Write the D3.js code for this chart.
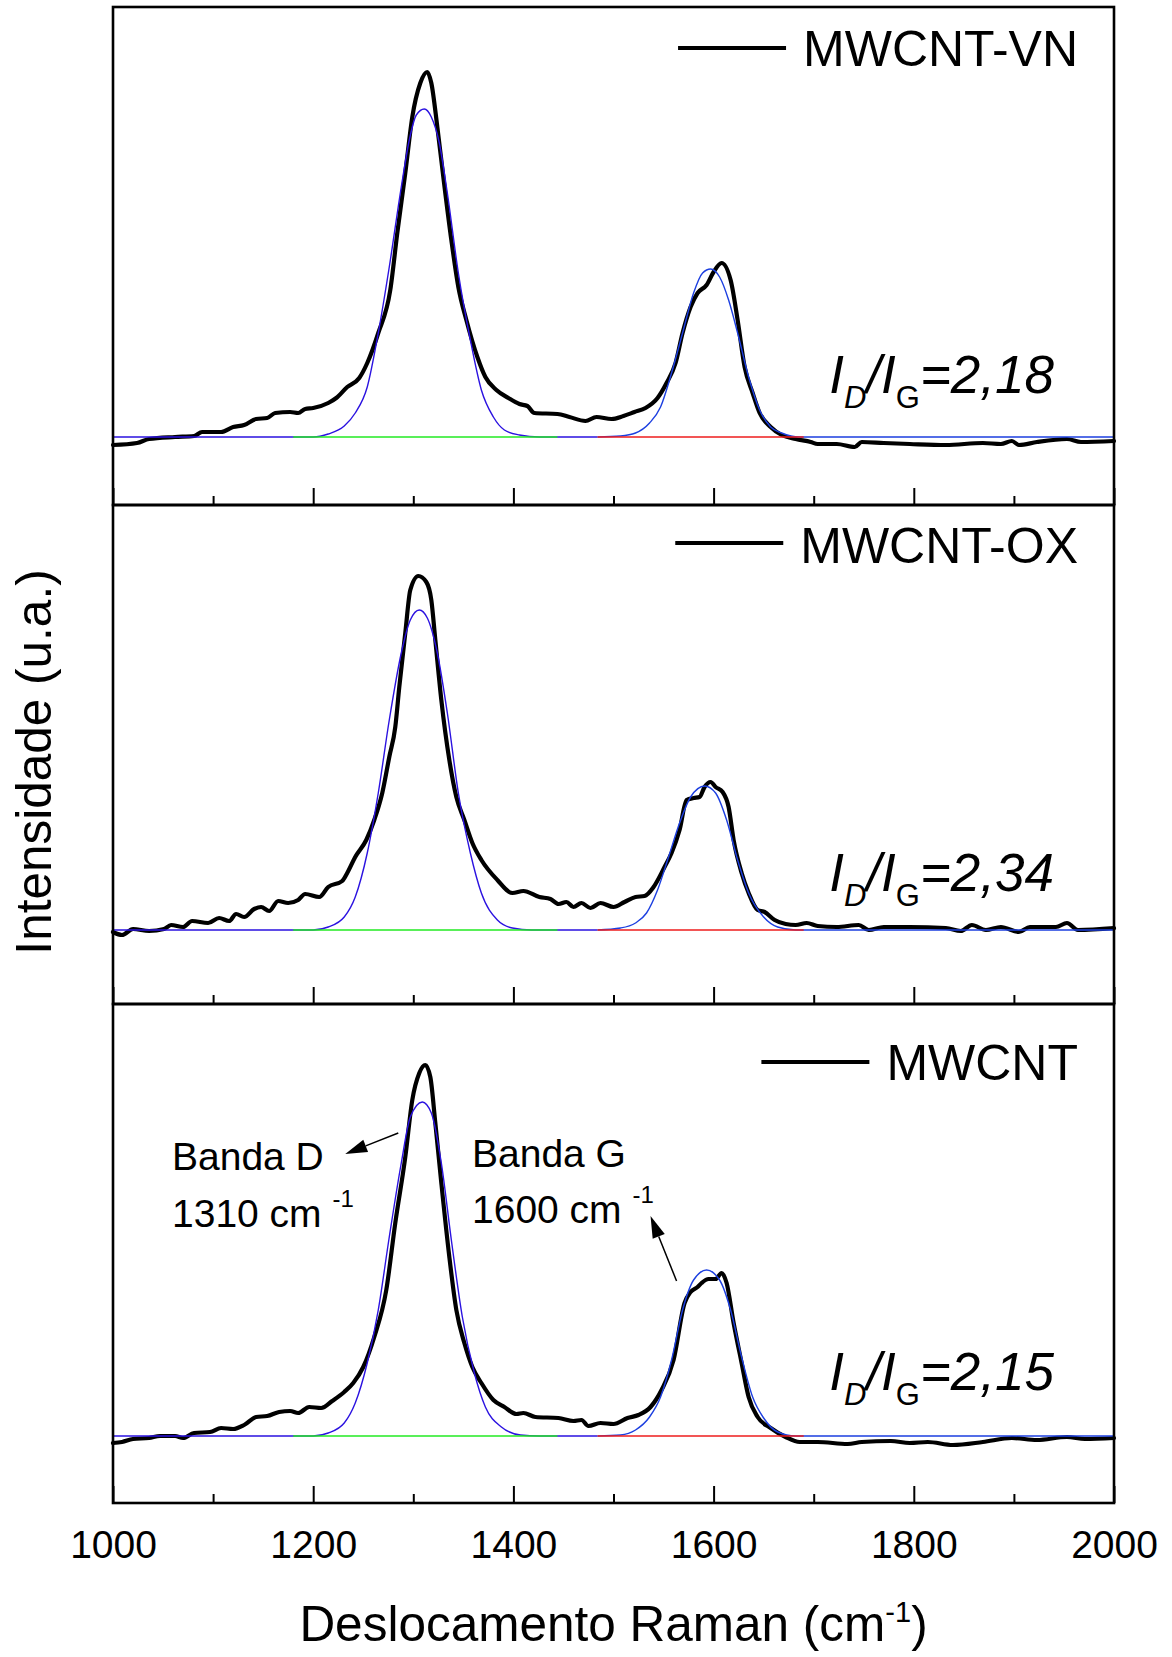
<!DOCTYPE html>
<html>
<head>
<meta charset="utf-8">
<script src="https://cdn.jsdelivr.net/npm/d3@7"></script>
<style>
  body { margin: 0; background: #fff; }
  svg { display: block; }
  text { font-family: "Liberation Sans", Arial, Helvetica, sans-serif; fill: #000; }
</style>
</head>
<body>
<svg id="chart" width="1172" height="1657"></svg>
<script>
// ---------- data ----------
const samples = ["MWCNT-VN", "MWCNT-OX", "MWCNT"];
const ratioValues = ["2,18", "2,34", "2,15"];
const xMajorTicks = [1000, 1200, 1400, 1600, 1800, 2000];
const xMinorTicks = [1100, 1300, 1500, 1700, 1900];
const xTickLabels = ["1000", "1200", "1400", "1600", "1800", "2000"];

// measured Raman spectra: [shift (cm-1), intensity (a.u.)]
const spectrumVN = [
  [1000,-8],[1024,-6],[1036,-2],[1062,0],[1081,1],[1089,5],[1108,5],[1120,10],[1131,12],[1143,18],
  [1154,19],[1162,24],[1177,25],[1185,24],[1192,28],[1200,29],[1215,34],[1223,39],[1234,50],[1246,59],
  [1254,74],[1265,104],[1277,147],[1284,204],[1292,264],[1299,320],[1307,354],[1314,365],[1318,354],
  [1324,310],[1330,260],[1338,197],[1345,150],[1353,117],[1364,80],[1372,60],[1383,47],[1395,39],
  [1406,33],[1414,31],[1421,24],[1444,23],[1456,20],[1472,16],[1483,20],[1498,18],[1510,21],[1521,25],
  [1532,29],[1544,39],[1553,54],[1562,74],[1569,104],[1577,130],[1584,144],[1593,152],[1600,165],
  [1608,174],[1617,157],[1624,117],[1631,70],[1639,44],[1646,24],[1657,10],[1668,2],[1682,-2],
  [1697,-5],[1704,-7],[1723,-7],[1741,-10],[1748,-5],[1770,-6],[1796,-7],[1832,-8],[1869,-6],
  [1887,-7],[1898,-4],[1905,-8],[1923,-5],[1953,-2],[1967,-5],[2000,-4]
];
const spectrumOX = [
  [1000,-2],[1009,-5],[1020,1],[1036,-1],[1051,1],[1058,5],[1070,3],[1079,9],[1095,7],[1106,12],
  [1116,9],[1123,16],[1131,13],[1141,21],[1148,23],[1156,19],[1165,29],[1175,27],[1185,30],[1192,36],
  [1206,33],[1215,43],[1229,49],[1234,57],[1242,73],[1253,90],[1261,110],[1269,137],[1276,173],
  [1282,203],[1286,243],[1292,297],[1297,340],[1305,354],[1313,348],[1318,330],[1322,290],[1328,230],
  [1336,170],[1343,133],[1351,110],[1359,87],[1368,70],[1384,50],[1399,37],[1410,39],[1426,33],
  [1437,31],[1445,26],[1453,28],[1460,23],[1468,27],[1477,22],[1487,27],[1500,23],[1511,28],[1522,33],
  [1531,34],[1540,43],[1551,63],[1558,77],[1566,100],[1573,130],[1580,132],[1586,133],[1591,143],
  [1597,148],[1602,143],[1609,138],[1615,123],[1620,90],[1628,57],[1635,37],[1644,20],[1651,18],
  [1661,10],[1672,6],[1682,5],[1693,7],[1704,4],[1723,3],[1745,5],[1755,0],[1770,3],[1796,3],
  [1832,2],[1847,-1],[1858,5],[1872,0],[1887,3],[1905,-2],[1916,3],[1942,3],[1953,7],[1964,0],[2000,2]
];
const spectrumPristine = [
  [1000,-7],[1009,-6],[1020,-3],[1036,-2],[1047,0],[1062,0],[1070,-2],[1081,3],[1097,4],[1108,8],
  [1120,7],[1131,11],[1143,19],[1154,20],[1166,24],[1177,25],[1185,23],[1196,29],[1208,28],[1219,35],
  [1231,44],[1240,53],[1250,69],[1261,99],[1273,146],[1282,213],[1292,279],[1299,336],[1306,363],
  [1312,371],[1317,359],[1322,313],[1328,253],[1336,179],[1343,126],[1351,93],[1359,69],[1368,53],
  [1380,36],[1391,29],[1403,22],[1410,23],[1422,19],[1445,18],[1460,15],[1468,16],[1475,10],[1487,13],
  [1500,12],[1514,18],[1525,21],[1537,29],[1548,46],[1560,76],[1571,133],[1577,144],[1584,149],
  [1588,153],[1595,157],[1602,157],[1608,163],[1613,153],[1620,113],[1628,73],[1635,39],[1644,19],
  [1657,8],[1672,-1],[1686,-6],[1704,-6],[1734,-8],[1748,-6],[1777,-5],[1796,-7],[1814,-6],[1839,-9],
  [1869,-6],[1898,-2],[1923,-4],[1953,-1],[1971,-3],[2000,-2]
];

// fitted D band profiles
const fitD_VN = [
  [1000,0],[1200,0],[1215,3],[1231,11],[1242,24],[1254,50],[1265,104],[1276,170],[1288,250],[1296,297],
  [1303,322],[1311,328],[1318,320],[1326,294],[1334,244],[1345,164],[1357,97],[1368,47],[1380,20],
  [1391,7],[1406,2],[1426,0],[1484,0]
];
const fitD_OX = [
  [1000,0],[1200,0],[1215,3],[1231,13],[1242,33],[1254,77],[1265,137],[1276,210],[1288,277],[1297,310],
  [1306,320],[1314,312],[1324,277],[1334,217],[1345,137],[1357,77],[1368,37],[1384,10],[1399,2],
  [1418,0],[1484,0]
];
const fitD_Pristine = [
  [1000,0],[1200,0],[1215,3],[1231,13],[1242,33],[1254,73],[1265,126],[1276,199],[1288,273],[1297,319],
  [1309,334],[1318,323],[1328,273],[1338,196],[1349,119],[1361,63],[1372,29],[1388,9],[1407,1],
  [1426,0],[1484,0]
];
// fitted G band profiles
const fitG_VN = [
  [1484,0],[1507,1],[1522,4],[1536,14],[1547,30],[1558,64],[1569,104],[1580,144],[1589,164],[1597,168],
  [1606,160],[1615,137],[1624,104],[1635,60],[1646,27],[1657,10],[1668,4],[1686,0],[2000,0]
];
const fitG_OX = [
  [1484,0],[1507,2],[1522,7],[1533,17],[1544,40],[1555,73],[1566,107],[1577,133],[1591,144],[1602,137],
  [1613,110],[1624,70],[1635,37],[1650,13],[1664,3],[1682,0],[2000,0]
];
const fitG_Pristine = [
  [1484,0],[1507,1],[1522,6],[1536,19],[1547,39],[1558,76],[1569,126],[1580,156],[1593,166],[1606,156],
  [1617,126],[1628,79],[1639,39],[1650,18],[1664,4],[1682,0],[2000,0]
];
// fit baselines: [start, end] in cm-1
const baselineRangeD = [1180, 1444];
const baselineRangeG = [1484, 1690];

// band annotations (bottom panel)
const bandNames = ["Banda D", "Banda G"];
const bandPositions = ["1310", "1600"];
// arrows: [tail shift, tail intensity, tip shift, tip intensity]
const bandArrows = [[1285, 303, 1232, 282], [1563, 155, 1537, 220]];

// ---------- layout ----------
const svg = d3.select("#chart");
const left = 113, right = 1114;
const panels = [
  { top: 7,    bottom: 505,  domain: [-68, 430], spec: spectrumVN,       fD: fitD_VN,       fG: fitG_VN },
  { top: 505,  bottom: 1004, domain: [-74, 425], spec: spectrumOX,       fD: fitD_OX,       fG: fitG_OX },
  { top: 1004, bottom: 1503, domain: [-67, 432], spec: spectrumPristine, fD: fitD_Pristine, fG: fitG_Pristine }
];
const legendOffset = [[41, 59], [38, 58], [58, 76]];

const x = d3.scaleLinear().domain([1000, 2000]).range([left, right]);

panels.forEach((p, i) => {
  const y = d3.scaleLinear().domain(p.domain).range([p.bottom, p.top]);
  const line = d3.line().x(d => x(d[0])).y(d => y(d[1])).curve(d3.curveMonotoneX);
  const g = svg.append("g");

  // measured spectrum
  g.append("path").datum(p.spec).attr("d", line)
    .attr("fill", "none").attr("stroke", "#000").attr("stroke-width", 4.2)
    .attr("stroke-linejoin", "round").attr("stroke-linecap", "round");

  // D fit, baseline segments, G fit
  g.append("path").datum(p.fD).attr("d", line)
    .attr("fill", "none").attr("stroke", "#2b12e0").attr("stroke-width", 1.4);
  g.append("line")
    .attr("x1", x(baselineRangeD[0])).attr("x2", x(baselineRangeD[1]))
    .attr("y1", y(0)).attr("y2", y(0))
    .attr("stroke", "#22ea22").attr("stroke-width", 1.6);
  g.append("path").datum(p.fG).attr("d", line)
    .attr("fill", "none").attr("stroke", "#1c3fe0").attr("stroke-width", 1.4);
  g.append("line")
    .attr("x1", x(baselineRangeG[0])).attr("x2", x(baselineRangeG[1]))
    .attr("y1", y(0)).attr("y2", y(0))
    .attr("stroke", "#ee1c1c").attr("stroke-width", 1.6);

  // inward ticks on the bottom edge of each panel
  const major = d3.axisBottom(x).tickValues(xMajorTicks).tickSize(-17).tickPadding(27)
    .tickFormat((d, k) => i === panels.length - 1 ? xTickLabels[k] : "");
  const minor = d3.axisBottom(x).tickValues(xMinorTicks).tickSize(-9).tickFormat("");
  const ga = g.append("g").attr("transform", `translate(0,${p.bottom})`).call(major);
  const gm = g.append("g").attr("transform", `translate(0,${p.bottom})`).call(minor);
  [ga, gm].forEach(a => {
    a.select(".domain").remove();
    a.selectAll(".tick line").attr("stroke", "#000").attr("stroke-width", 2);
  });
  ga.selectAll(".tick text")
    .style("font-family", '"Liberation Sans", Arial, sans-serif')
    .attr("font-size", 39).attr("fill", "#000");

  // frame
  g.append("rect").attr("x", left).attr("y", p.top)
    .attr("width", right - left).attr("height", p.bottom - p.top)
    .attr("fill", "none").attr("stroke", "#000").attr("stroke-width", 2.6);

  // legend
  const lt = g.append("text").attr("x", 1078).attr("y", p.top + legendOffset[i][1])
    .attr("text-anchor", "end").attr("font-size", 50).text(samples[i]);
  const tx = 1078 - lt.node().getComputedTextLength();
  g.append("line").attr("x1", tx - 125).attr("x2", tx - 17)
    .attr("y1", p.top + legendOffset[i][0]).attr("y2", p.top + legendOffset[i][0])
    .attr("stroke", "#000").attr("stroke-width", 4);

  // intensity ratio
  const r = g.append("text").attr("x", 1054).attr("y", p.top + 386)
    .attr("text-anchor", "end").attr("font-size", 53).attr("font-style", "italic");
  r.append("tspan").text("I");
  r.append("tspan").attr("dy", 15).attr("font-size", 31).text("D");
  r.append("tspan").attr("dy", -15).text("/I");
  r.append("tspan").attr("dy", 15).attr("font-size", 31).attr("font-style", "normal").text("G");
  r.append("tspan").attr("dy", -15).text("=" + ratioValues[i]);

  // band annotations on the bottom panel
  if (i === panels.length - 1) {
    const textX = [172, 472], nameY = [1170, 1167], posY = [1227, 1223];
    bandNames.forEach((nm, k) => {
      g.append("text").attr("x", textX[k]).attr("y", nameY[k]).attr("font-size", 39).text(nm);
      const t = g.append("text").attr("x", textX[k]).attr("y", posY[k]).attr("font-size", 39)
        .attr("xml:space", "preserve");
      t.append("tspan").text(bandPositions[k] + " cm ");
      t.append("tspan").attr("dy", -20).attr("font-size", 24).text("-1");
    });
    bandArrows.forEach(a => {
      const x1 = x(a[0]), y1 = y(a[1]), x2 = x(a[2]), y2 = y(a[3]);
      const ang = Math.atan2(y2 - y1, x2 - x1);
      const len = 22, hw = 6.5;
      const bx = x2 - len * Math.cos(ang), by = y2 - len * Math.sin(ang);
      g.append("line").attr("x1", x1).attr("y1", y1).attr("x2", bx).attr("y2", by)
        .attr("stroke", "#000").attr("stroke-width", 1.5);
      g.append("path")
        .attr("d", `M${x2},${y2}L${bx - hw * Math.sin(ang)},${by + hw * Math.cos(ang)}L${bx + hw * Math.sin(ang)},${by - hw * Math.cos(ang)}Z`)
        .attr("fill", "#000");
    });
  }
});

// axis titles
const xt = svg.append("text").attr("x", (left + right) / 2).attr("y", 1641)
  .attr("text-anchor", "middle").attr("font-size", 49.5);
xt.append("tspan").text("Deslocamento Raman (cm");
xt.append("tspan").attr("dy", -19).attr("font-size", 29).text("-1");
xt.append("tspan").attr("dy", 19).text(")");

svg.append("text").attr("transform", "translate(51,762) rotate(-90)")
  .attr("text-anchor", "middle").attr("font-size", 49.5).text("Intensidade (u.a.)");
</script>
</body>
</html>
